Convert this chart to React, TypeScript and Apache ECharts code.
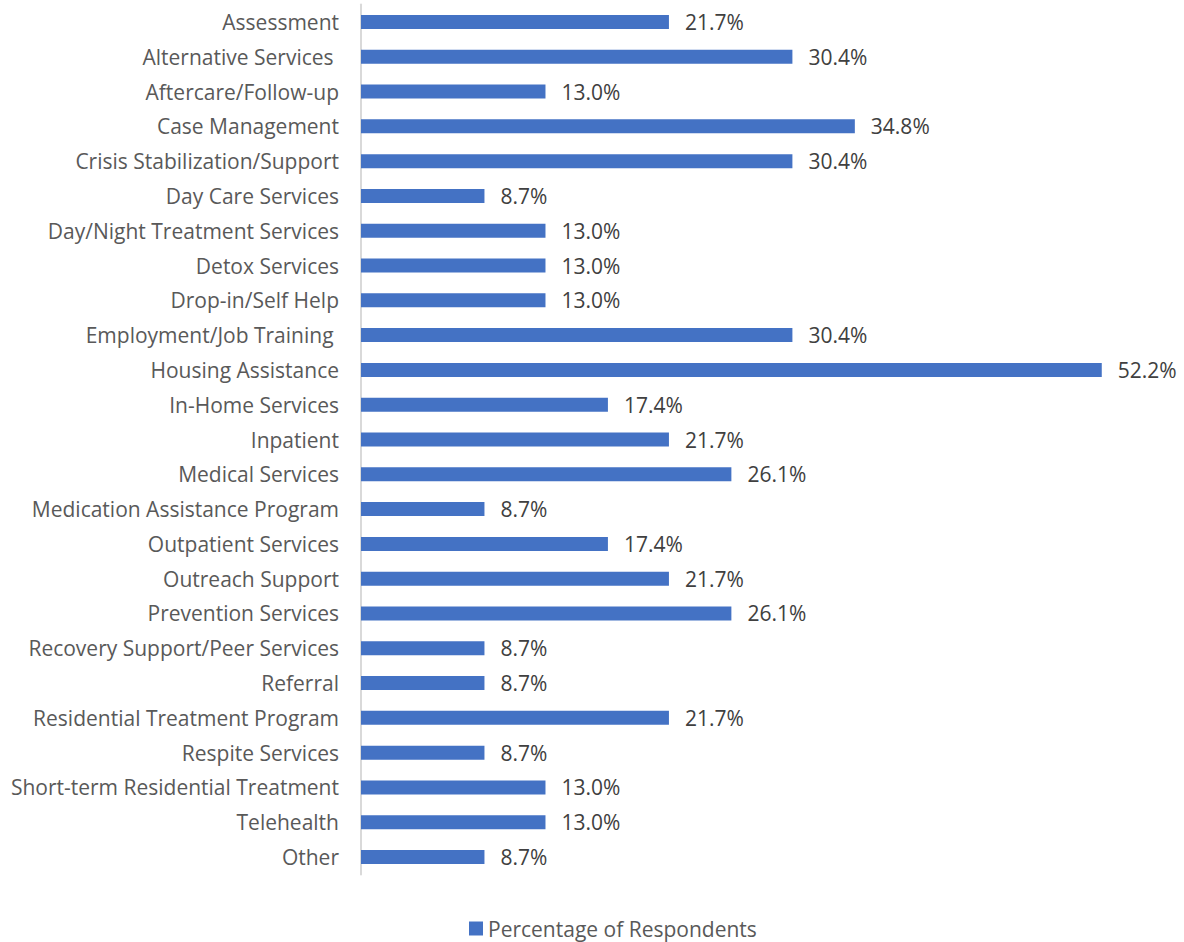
import React, { useEffect, useRef } from "react";
import * as echarts from "echarts";

const categories = [
  "Assessment",
  "Alternative Services ",
  "Aftercare/Follow-up",
  "Case Management",
  "Crisis Stabilization/Support",
  "Day Care Services",
  "Day/Night Treatment Services",
  "Detox Services",
  "Drop-in/Self Help",
  "Employment/Job Training ",
  "Housing Assistance",
  "In-Home Services",
  "Inpatient",
  "Medical Services",
  "Medication Assistance Program",
  "Outpatient Services",
  "Outreach Support",
  "Prevention Services",
  "Recovery Support/Peer Services",
  "Referral",
  "Residential Treatment Program",
  "Respite Services",
  "Short-term Residential Treatment",
  "Telehealth",
  "Other",
];

const percentages = [
  21.7, 30.4, 13.0, 34.8, 30.4, 8.7, 13.0, 13.0, 13.0, 30.4, 52.2, 17.4, 21.7,
  26.1, 8.7, 17.4, 21.7, 26.1, 8.7, 8.7, 21.7, 8.7, 13.0, 13.0, 8.7,
];

const seriesName = "Percentage of Respondents";

const FONT = "'Open Sans', sans-serif";

export default function App() {
  const ref = useRef<HTMLDivElement>(null);
  useEffect(() => {
    if (!ref.current) return;
    const chart = echarts.init(ref.current, null, { renderer: "svg" });
    chart.setOption({
      animation: false,
      textStyle: { fontFamily: FONT },
      grid: { left: 361, top: 4.6, width: 780.5, height: 869.8 },
      legend: {
        data: [seriesName],
        left: 464,
        top: 913,
        itemWidth: 14,
        itemHeight: 14,
        itemGap: 6,
        textStyle: { fontFamily: FONT, fontSize: 21, color: "#595959" },
        icon: "rect",
      },
      xAxis: {
        type: "value",
        min: 0,
        max: 55,
        show: false,
        splitLine: { show: false },
      },
      yAxis: {
        type: "category",
        data: categories,
        inverse: true,
        axisLine: { show: true, lineStyle: { color: "#d9d9d9", width: 2 } },
        axisTick: { show: false },
        axisLabel: {
          margin: 22,
          fontFamily: FONT,
          fontSize: 21,
          color: "#595959",
        },
      },
      series: [
        {
          name: seriesName,
          type: "bar",
          data: percentages,
          barWidth: 14,
          itemStyle: { color: "#4472C4" },
          label: {
            show: true,
            position: "right",
            distance: 16,
            fontFamily: FONT,
            fontSize: 21,
            color: "#404040",
            formatter: (p: any) => p.value.toFixed(1) + "%",
          },
        },
      ],
    });
    return () => chart.dispose();
  }, []);
  return (
    <div
      ref={ref}
      style={{ position: "absolute", left: 0, top: 0, width: 1184, height: 942 }}
    />
  );
}
